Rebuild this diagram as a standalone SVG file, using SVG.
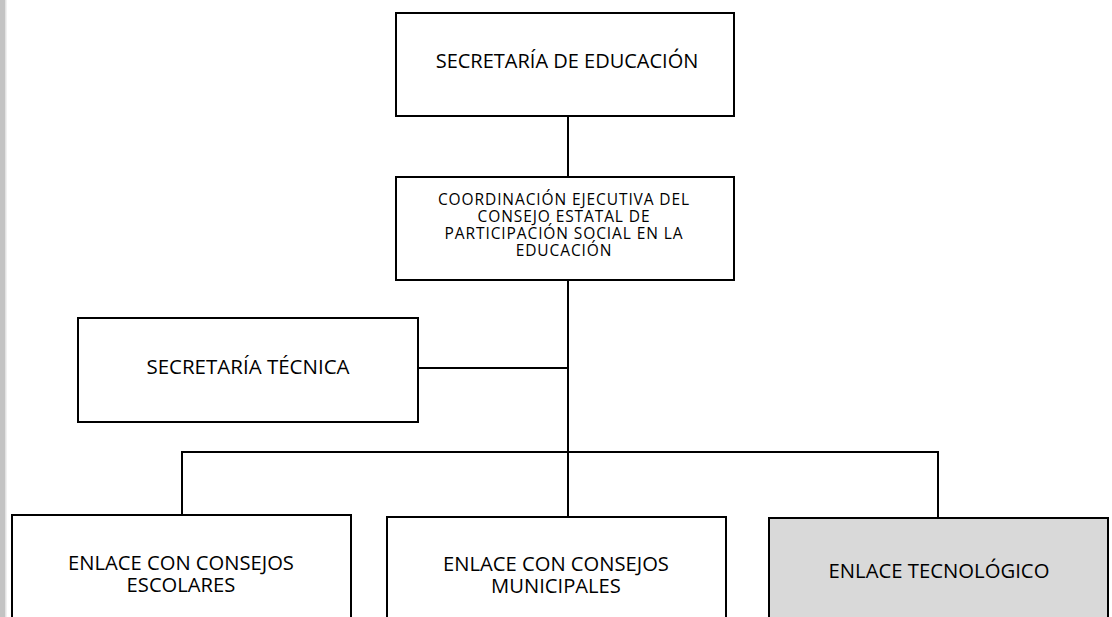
<svg xmlns="http://www.w3.org/2000/svg" width="1112" height="617" viewBox="0 0 1112 617">
<style>
.box{fill:#fff;stroke:#000;stroke-width:2}
.gray{fill:#d9d9d9}
.t{font-family:"Open Sans","DejaVu Sans",sans-serif;fill:#000;text-anchor:middle}
.c{stroke:#000;stroke-width:2;fill:none}
</style>
<rect x="0" y="0" width="1112" height="617" fill="#fff"/>
<rect x="0" y="0" width="5" height="617" fill="#c3c3c3"/>
<rect x="5" y="0" width="1.5" height="617" fill="#e2e2e2"/>
<g id="connectors">
<line class="c" x1="568" y1="116" x2="568" y2="177"/>
<line class="c" x1="568" y1="280" x2="568" y2="517"/>
<line class="c" x1="418" y1="368" x2="568" y2="368"/>
<line class="c" x1="181" y1="452" x2="939" y2="452"/>
<line class="c" x1="182" y1="452" x2="182" y2="515"/>
<line class="c" x1="938" y1="452" x2="938" y2="518"/>
</g>
<g id="n1">
<rect class="box" x="396" y="13" width="338" height="103"/>
<text class="t" x="567" y="68" font-size="20">SECRETARÍA DE EDUCACIÓN</text>
</g>
<g id="n2">
<rect class="box" x="396" y="177" width="338" height="103"/>
<text class="t" font-size="15.5" letter-spacing="0.9"><tspan x="564" y="205">COORDINACIÓN EJECUTIVA DEL</tspan><tspan x="564" y="222">CONSEJO ESTATAL DE</tspan><tspan x="564" y="239">PARTICIPACIÓN SOCIAL EN LA</tspan><tspan x="564" y="256">EDUCACIÓN</tspan></text>
</g>
<g id="n3">
<rect class="box" x="78" y="318" width="340" height="104"/>
<text class="t" x="248" y="374" font-size="20.5">SECRETARÍA TÉCNICA</text>
</g>
<g id="n4">
<rect class="box" x="12" y="515" width="339" height="120"/>
<text class="t" font-size="20.2"><tspan x="181" y="570">ENLACE CON CONSEJOS</tspan><tspan x="181" y="592">ESCOLARES</tspan></text>
</g>
<g id="n5">
<rect class="box" x="387" y="517" width="339" height="120"/>
<text class="t" font-size="20.2"><tspan x="556" y="571">ENLACE CON CONSEJOS</tspan><tspan x="556" y="593">MUNICIPALES</tspan></text>
</g>
<g id="n6">
<rect class="box gray" x="769" y="518" width="339" height="120"/>
<text class="t" x="939" y="578" font-size="20.3">ENLACE TECNOLÓGICO</text>
</g>
</svg>
